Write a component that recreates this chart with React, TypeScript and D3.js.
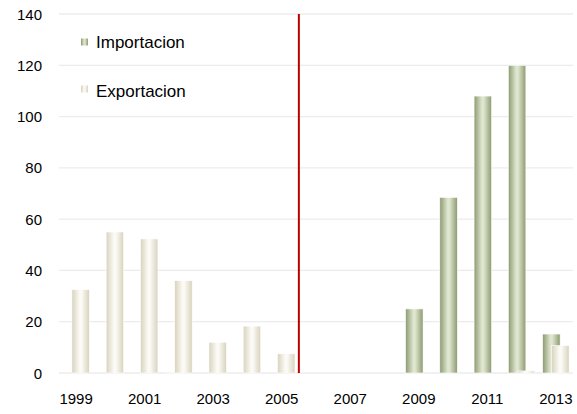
import React from "react";
import * as d3 from "d3";

const years = ["1999","2000","2001","2002","2003","2004","2005","2006","2007","2008","2009","2010","2011","2012","2013"];
const importacion = [0, 0, 0, 0.3, 0, 0, 0, 0, 0, 0, 25, 68.5, 108, 120, 15.2];
const exportacion = [32.5, 55, 52.3, 36, 12, 18.3, 7.5, 0, 0, 0, 0, 0, 0, 0.8, 10.7];
const yTicks = [0, 20, 40, 60, 80, 100, 120, 140];
const xLabels = ["1999","2001","2003","2005","2007","2009","2011","2013"];
const dividerAfter = "2005";

const W = 577, H = 414;
const M = { left: 59, right: 4, top: 14, bottom: 41 };
const FONT = "'Liberation Sans', 'DejaVu Sans', sans-serif";

export default function App() {
  const x = d3.scaleBand().domain(years).range([M.left, W - M.right]).paddingInner(0).paddingOuter(0);
  const y = d3.scaleLinear().domain([0, 140]).range([H - M.bottom, M.top]);
  const bw = 17.5;
  const off = 4.5;
  const cx = (yr: string) => (x(yr) as number) + x.bandwidth() / 2;
  const divX = (x(dividerAfter) as number) + x.bandwidth();
  return (
    <div style={{ position: "absolute", left: 0, top: 0 }}>
      <svg width={W} height={H} style={{ display: "block", background: "#fff" }}>
        <defs>
          <linearGradient id="gImp" x1="0" x2="1" y1="0" y2="0">
            <stop offset="0" stopColor="#8c9a70" />
            <stop offset="0.45" stopColor="#dfe6cf" />
            <stop offset="0.55" stopColor="#dfe6cf" />
            <stop offset="1" stopColor="#8c9a70" />
          </linearGradient>
          <linearGradient id="gExp" x1="0" x2="1" y1="0" y2="0">
            <stop offset="0" stopColor="#d8d3bd" />
            <stop offset="0.45" stopColor="#fbfaf5" />
            <stop offset="0.55" stopColor="#fbfaf5" />
            <stop offset="1" stopColor="#d8d3bd" />
          </linearGradient>
        </defs>
        {yTicks.map((t) => (
          <g key={t}>
            <line x1={M.left} x2={W - M.right} y1={y(t)} y2={y(t)} stroke="#ececec" strokeWidth={1.3} />
            <text x={42} y={y(t) + 5.5} textAnchor="end" fontFamily={FONT} fontSize={15} fill="#000">{t}</text>
          </g>
        ))}
        {years.map((yr, i) => importacion[i] > 0 ? (
          <rect key={"i" + yr} x={cx(yr) - off - bw / 2} width={bw} y={y(importacion[i])} height={y(0) - y(importacion[i])} fill="url(#gImp)" stroke="#fff" strokeWidth={0.6} />
        ) : null)}
        {years.map((yr, i) => exportacion[i] > 0 ? (
          <rect key={"e" + yr} x={cx(yr) + off - bw / 2} width={bw} y={y(exportacion[i])} height={y(0) - y(exportacion[i])} fill="url(#gExp)" stroke="#fff" strokeWidth={0.6} />
        ) : null)}
        <line x1={divX} x2={divX} y1={y(140)} y2={y(0)} stroke="#c00000" strokeWidth={2} />
        {xLabels.map((l) => (
          <text key={l} x={cx(l)} y={404} textAnchor="middle" fontFamily={FONT} fontSize={15} fill="#000">{l}</text>
        ))}
        <rect x={81} y={38.5} width={7} height={7} fill="url(#gImp)" />
        <text x={96} y={47.5} fontFamily={FONT} fontSize={17} fill="#000">Importacion</text>
        <rect x={81} y={85.5} width={7} height={7} fill="url(#gExp)" />
        <text x={96} y={96.5} fontFamily={FONT} fontSize={17} fill="#000">Exportacion</text>
      </svg>
    </div>
  );
}
